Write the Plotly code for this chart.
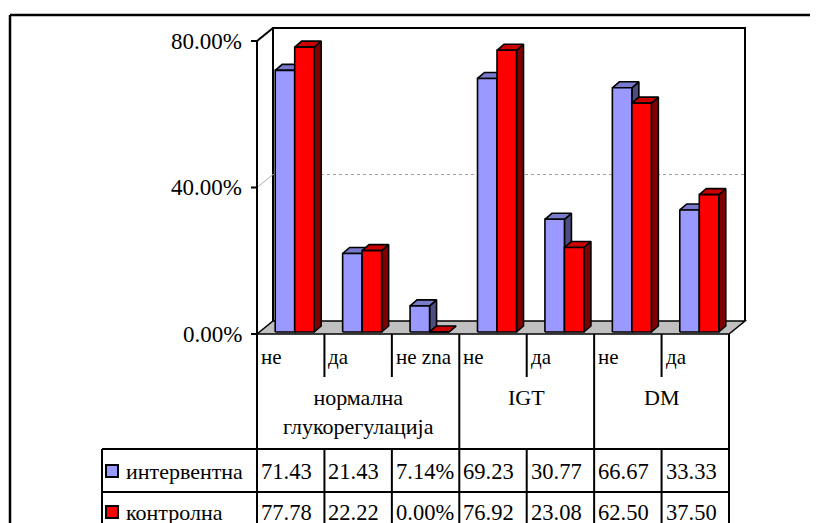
import plotly.graph_objects as go

# ---------------- data ----------------
categories = ["не", "да", "не zna", "не", "да", "не", "да"]
groups = ["нормална<br>глукорегулација", "IGT", "DM"]
group_spans = [(0, 3), (3, 5), (5, 7)]
series_names = ["интервентна", "контролна"]
intervention = [71.43, 21.43, 7.14, 69.23, 30.77, 66.67, 33.33]
control = [77.78, 22.22, 0.00, 76.92, 23.08, 62.50, 37.50]
y_ticks = [0, 40, 80]
y_tick_labels = ["0.00%", "40.00%", "80.00%"]

# ---------------- layout constants (page pixels) ----------------
W, H = 818, 523
OFF = 8                  # page body margin
X0 = 257.0               # front-left corner of the plot plane
CW = 472.0 / 7           # category width, px
Y0 = 334.0               # baseline (0%) of the front plane
PPU = (334.0 - 41.0) / 80.0  # px per percent

def px2x(p):
    return (p - X0) / CW

def px2y(p):
    return (Y0 - p) / PPU

n = len(categories)
ymax = max(y_ticks)
WALL_DX, WALL_DY = 16 / CW, 13 / PPU
BAR_W, BAR_SHIFT = 19.5 / CW, 4 / CW
BAR_BASE = 2 / PPU
BAR_DX, BAR_DY = 7 / CW, 6 / PPU

FONT = "Liberation Serif"
FS = 22

colors = {
    "интервентна": ("#9999FF", "#7A7ACC", "#4D4D80"),
    "контролна": ("#FF0000", "#CC0000", "#800000"),
}

fig = go.Figure()
shapes = []

# back wall + side wall + gridline + floor (below bars)
shapes.append(dict(type="path", layer="below",
                   path=f"M {WALL_DX},{WALL_DY} L {WALL_DX},{ymax + WALL_DY} L {n + WALL_DX},{ymax + WALL_DY} L {n + WALL_DX},{WALL_DY}",
                   line=dict(color="black", width=2), fillcolor="white"))
shapes.append(dict(type="line", layer="below", x0=0, y0=ymax, x1=WALL_DX, y1=ymax + WALL_DY,
                   line=dict(color="black", width=2)))
for t in y_ticks[1:-1]:
    shapes.append(dict(type="line", layer="below", x0=0, y0=t, x1=WALL_DX, y1=t + WALL_DY,
                       line=dict(color="#B0B0B0", width=1)))
    shapes.append(dict(type="line", layer="below", x0=WALL_DX, y0=t + WALL_DY, x1=n + WALL_DX, y1=t + WALL_DY,
                       line=dict(color="#A0A0A0", width=1, dash="dot")))
shapes.append(dict(type="path", layer="below",
                   path=f"M 0,0 L {n},0 L {n + WALL_DX},{WALL_DY} L {WALL_DX},{WALL_DY} Z",
                   line=dict(color="black", width=1.5), fillcolor="#C0C0C0"))
# y axis
shapes.append(dict(type="line", layer="above", x0=0, y0=0, x1=0, y1=ymax,
                   line=dict(color="black", width=2)))
for t in y_ticks:
    shapes.append(dict(type="line", layer="above", x0=px2x(251), y0=t, x1=0, y1=t,
                       line=dict(color="black", width=2)))

# ---------------- 3D bars ----------------
def add_series(values, name, side):
    front_c, top_c, side_c = colors[name]
    fx, fy, tx, ty, sx, sy = [], [], [], [], [], []
    for i, v in enumerate(values):
        c = i + 0.5 + BAR_SHIFT
        x0, x1 = (c - BAR_W, c) if side == 0 else (c, c + BAR_W)
        y0, y1 = BAR_BASE, BAR_BASE + v
        fx += [x0, x1, x1, x0, x0, None]
        fy += [y0, y0, y1, y1, y0, None]
        tx += [x0, x1, x1 + BAR_DX, x0 + BAR_DX, x0, None]
        ty += [y1, y1, y1 + BAR_DY, y1 + BAR_DY, y1, None]
        sx += [x1, x1 + BAR_DX, x1 + BAR_DX, x1, x1, None]
        sy += [y0, y0 + BAR_DY, y1 + BAR_DY, y1, y0, None]
    for xs, ys, col in ((sx, sy, side_c), (tx, ty, top_c), (fx, fy, front_c)):
        fig.add_trace(go.Scatter(x=xs, y=ys, mode="lines", fill="toself", fillcolor=col,
                                 line=dict(color="black", width=1.6), hoverinfo="skip",
                                 showlegend=False))

add_series(intervention, series_names[0], 0)
add_series(control, series_names[1], 1)

annotations = []
for t, lab in zip(y_ticks, y_tick_labels):
    annotations.append(dict(x=px2x(244), y=t, text=lab, xanchor="right", yanchor="middle",
                            showarrow=False, font=dict(family=FONT, size=23, color="black")))

# ---------------- data table ----------------
TICK_BOTTOM = 377
GROUP_BOTTOM = 449
ROW2 = 492
TABLE_LEFT = 102
group_edges = sorted({a for a, b in group_spans} | {b for a, b in group_spans})
for i in range(n + 1):
    if i in group_edges:
        shapes.append(dict(type="line", x0=i, x1=i, y0=px2y(Y0), y1=px2y(H + 20),
                           line=dict(color="black", width=2)))
    else:
        shapes.append(dict(type="line", x0=i, x1=i, y0=px2y(Y0), y1=px2y(TICK_BOTTOM),
                           line=dict(color="black", width=2)))
        shapes.append(dict(type="line", x0=i, x1=i, y0=px2y(GROUP_BOTTOM), y1=px2y(H + 20),
                           line=dict(color="black", width=2)))
for yy in (GROUP_BOTTOM, ROW2):
    shapes.append(dict(type="line", x0=px2x(TABLE_LEFT), x1=n, y0=px2y(yy), y1=px2y(yy),
                       line=dict(color="black", width=2)))
shapes.append(dict(type="line", x0=px2x(TABLE_LEFT), x1=px2x(TABLE_LEFT), y0=px2y(GROUP_BOTTOM),
                   y1=px2y(H + 20), line=dict(color="black", width=2)))

for i, cat in enumerate(categories):
    annotations.append(dict(x=i + 2 / CW, y=px2y(357), text=cat, xanchor="left", yanchor="middle",
                            showarrow=False, font=dict(family=FONT, size=FS - 1, color="black")))
for g, (a, b) in zip(groups, group_spans):
    annotations.append(dict(x=(a + b) / 2, y=px2y(383), text=g, xanchor="center", yanchor="top",
                            showarrow=False, font=dict(family=FONT, size=FS, color="black")))

row_centers = [471, 512]
for name, vals, yc in zip(series_names, (intervention, control), row_centers):
    shapes.append(dict(type="rect", x0=px2x(106), x1=px2x(118), y0=px2y(yc + 6), y1=px2y(yc - 6),
                       fillcolor=colors[name][0], line=dict(color="black", width=2)))
    annotations.append(dict(x=px2x(124), y=px2y(yc), text=name, xanchor="left", yanchor="middle",
                            showarrow=False, font=dict(family=FONT, size=FS, color="black")))
    for i, v in enumerate(vals):
        annotations.append(dict(x=i + 2 / CW, y=px2y(yc), text=f"{v:.2f}%"[:5], xanchor="left",
                                yanchor="middle", showarrow=False,
                                font=dict(family=FONT, size=22.5, color="black")))

# outer frame
shapes.append(dict(type="line", x0=px2x(10), x1=px2x(W + 20), y0=px2y(15), y1=px2y(15),
                   line=dict(color="black", width=2.5)))
shapes.append(dict(type="line", x0=px2x(10), x1=px2x(10), y0=px2y(15), y1=px2y(H + 20),
                   line=dict(color="black", width=2.5)))

fig.update_layout(
    width=W, height=H,
    margin=dict(l=0, r=0, t=0, b=0),
    paper_bgcolor="white", plot_bgcolor="white",
    xaxis=dict(range=[px2x(OFF), px2x(W + OFF)], visible=False, fixedrange=True),
    yaxis=dict(range=[px2y(H + OFF), px2y(OFF)], visible=False, fixedrange=True),
    shapes=shapes, annotations=annotations, showlegend=False,
)

fig.write_html("out.html")
